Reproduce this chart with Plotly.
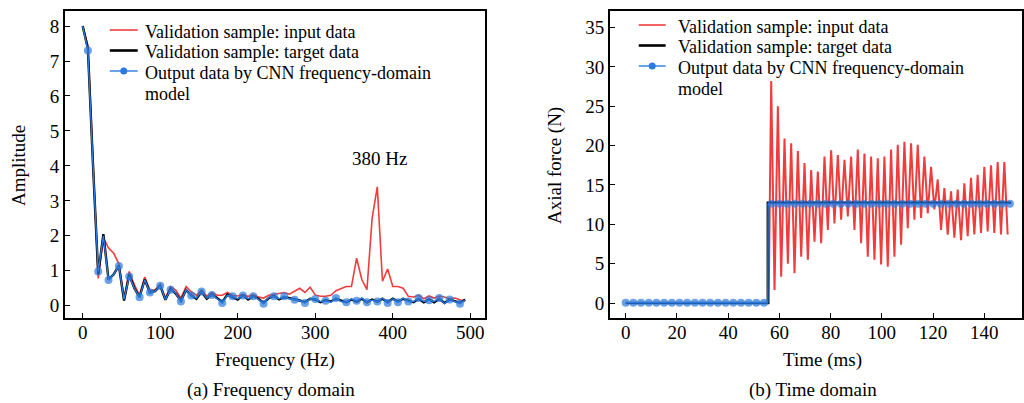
import plotly.graph_objects as go

W, H = 1024, 403
FONT = "Liberation Serif"
FS = 19
LEG_FS = 18

# ---------------- Frequency-domain data (resolution 6.67 Hz) ----------------
freq_step = 20.0 / 3.0
freq_black = [8.0, 7.35, 4.0, 0.9, 2.05, 0.75, 0.9, 1.15, 0.15, 0.88,
              0.5, 0.25, 0.75, 0.38, 0.42, 0.57, 0.17, 0.48, 0.35, 0.14,
              0.45, 0.3, 0.2, 0.4, 0.2, 0.32, 0.22, 0.1, 0.32, 0.26,
              0.18, 0.3, 0.18, 0.27, 0.2, 0.08, 0.22, 0.28, 0.18, 0.25,
              0.22, 0.17, 0.15, 0.1, 0.2, 0.18, 0.1, 0.16, 0.12, 0.2,
              0.15, 0.1, 0.18, 0.12, 0.2, 0.1, 0.18, 0.12, 0.2, 0.1,
              0.2, 0.12, 0.2, 0.14, 0.1, 0.2, 0.1, 0.18, 0.1, 0.2,
              0.08, 0.18, 0.14, 0.08, 0.18]
freq_red = [8.0, 7.45, 4.1, 0.78, 1.95, 1.65, 1.5, 1.2, 0.2, 0.98,
            0.6, 0.3, 0.82, 0.45, 0.45, 0.62, 0.22, 0.55, 0.45, 0.22,
            0.55, 0.4, 0.3, 0.45, 0.28, 0.38, 0.3, 0.3, 0.38, 0.3,
            0.28, 0.32, 0.27, 0.32, 0.25, 0.22, 0.3, 0.32, 0.36, 0.38,
            0.33, 0.42, 0.5, 0.38, 0.53, 0.31, 0.27, 0.27, 0.3, 0.43,
            0.5, 0.55, 0.55, 1.36, 0.75, 0.46, 2.5, 3.4, 0.7, 1.05,
            0.55, 0.55, 0.5, 0.27, 0.25, 0.3, 0.2, 0.28, 0.22, 0.27,
            0.25, 0.2, 0.22, 0.18, 0.12]
freq_blue = [8.0, 7.3, 4.0, 0.98, 2.0, 0.74, 0.9, 1.14, 0.18, 0.84,
             0.5, 0.24, 0.74, 0.38, 0.42, 0.57, 0.18, 0.46, 0.36, 0.12,
             0.46, 0.29, 0.22, 0.41, 0.22, 0.31, 0.2, 0.08, 0.3, 0.27,
             0.2, 0.29, 0.2, 0.27, 0.18, 0.06, 0.24, 0.27, 0.2, 0.27,
             0.2, 0.17, 0.15, 0.08, 0.2, 0.19, 0.12, 0.14, 0.1, 0.22,
             0.12, 0.1, 0.2, 0.14, 0.22, 0.1, 0.16, 0.12, 0.22, 0.08,
             0.2, 0.1, 0.22, 0.12, 0.12, 0.22, 0.12, 0.16, 0.12, 0.22,
             0.06, 0.18, 0.12, 0.06, 0.16]
freq = [i * freq_step for i in range(len(freq_black))]

# ---------------- Time-domain data ----------------
red_pre_t = [0.0, 55.8]
red_pre_v = [0.0, 0.0]
red_peaks = [28.2, 25.0, 20.9, 20.3, 19.3, 17.8, 16.9, 16.7, 18.6, 19.4,
             18.8, 18.2, 18.6, 19.5, 19.0, 18.6, 18.4, 18.6, 19.5, 20.1,
             20.5, 20.3, 20.1, 18.6, 17.3, 15.7, 14.6, 14.2, 14.4, 15.2,
             15.9, 16.3, 17.3, 17.5, 17.9, 17.9]
red_troughs = [1.65, 3.35, 5.0, 3.8, 5.9, 5.5, 7.8, 7.6, 9.3, 10.1,
               10.6, 11.0, 9.3, 7.6, 5.9, 5.5, 4.9, 4.6, 5.9, 7.4,
               9.5, 10.6, 10.8, 11.4, 11.9, 9.3, 8.7, 8.3, 8.0, 8.5,
               8.7, 8.9, 9.1, 8.9, 8.7, 8.7]
red_first_peak_t = 56.8
red_period = 2.6

black_t = [0.0, 55.5, 55.5, 150.5]
black_v = [0.0, 0.0, 12.75, 12.75]

blue_t = [0, 3, 6, 9, 12, 15, 18, 21, 24, 27, 30, 33, 36, 39, 42, 45, 48, 51, 54,
          55.5, 55.6,
          57, 60, 63, 66, 69, 72, 75, 78, 81, 84, 87, 90, 93, 96, 99, 102, 105,
          108, 111, 114, 117, 120, 123, 126, 129, 132, 135, 138, 141, 144, 147, 150]
blue_v = [0.05, 0.05, 0.05, 0.05, 0.05, 0.05, 0.05, 0.05, 0.05, 0.05, 0.05, 0.05,
          0.05, 0.05, 0.05, 0.05, 0.05, 0.05, 0.05,
          0.05, 12.6,
          12.6, 12.6, 12.6, 12.6, 12.6, 12.6, 12.6, 12.6, 12.6, 12.6, 12.6, 12.6,
          12.6, 12.6, 12.6, 12.6, 12.6, 12.6, 12.6, 12.6, 12.6, 12.6, 12.6, 12.6,
          12.6, 12.6, 12.6, 12.6, 12.6, 12.6, 12.6, 12.6]

freq_ticks = [0, 100, 200, 300, 400, 500]
amp_ticks = [0, 1, 2, 3, 4, 5, 6, 7, 8]
time_ticks = [0, 20, 40, 60, 80, 100, 120, 140]
force_ticks = [0, 5, 10, 15, 20, 25, 30, 35]

legend_labels = ["Validation sample: input data",
                 "Validation sample: target data",
                 "Output data by CNN frequency-domain",
                 "model"]

RED = "#f03c3c"
BLUE = "#2a7ae0"

red_t = list(red_pre_t)
red_v = list(red_pre_v)
for k in range(len(red_peaks)):
    red_t.append(red_first_peak_t + k * red_period)
    red_v.append(red_peaks[k])
    red_t.append(red_first_peak_t + k * red_period + red_period / 2)
    red_v.append(red_troughs[k])


def px(x):
    return x / W


def py(y):
    return 1 - y / H


fig = go.Figure()

# ---- left panel ----
fig.add_trace(go.Scatter(x=freq, y=freq_red, mode="lines", name=legend_labels[0],
                         line=dict(color=RED, width=1.6), xaxis="x", yaxis="y", showlegend=False))
fig.add_trace(go.Scatter(x=freq, y=freq_black, mode="lines", name=legend_labels[1],
                         line=dict(color="black", width=2.4), xaxis="x", yaxis="y", showlegend=False))
blue_sizes_f = [8 if i % 2 == 1 else 0 for i in range(len(freq_blue))]
fig.add_trace(go.Scatter(x=freq, y=freq_blue, mode="lines+markers", name=legend_labels[2],
                         line=dict(color=BLUE, width=1.4),
                         marker=dict(color=BLUE, size=blue_sizes_f, line=dict(width=0)),
                         xaxis="x", yaxis="y", showlegend=False))

# ---- right panel ----
fig.add_trace(go.Scatter(x=red_t, y=red_v, mode="lines", name=legend_labels[0],
                         line=dict(color=RED, width=2.0), xaxis="x2", yaxis="y2", showlegend=False))
fig.add_trace(go.Scatter(x=black_t, y=black_v, mode="lines", name=legend_labels[1],
                         line=dict(color="black", width=2.6), xaxis="x2", yaxis="y2", showlegend=False))
blue_sizes_t = [0 if t in (55.5, 55.6) else 8 for t in blue_t]
fig.add_trace(go.Scatter(x=blue_t, y=blue_v, mode="lines+markers", name=legend_labels[2],
                         line=dict(color=BLUE, width=1.4),
                         marker=dict(color=BLUE, size=blue_sizes_t, line=dict(width=0)),
                         xaxis="x2", yaxis="y2", showlegend=False))

axis_common = dict(showline=True, linecolor="black", linewidth=1.6, mirror=True,
                   ticks="inside", ticklen=5, tickwidth=1.3, tickcolor="black",
                   showgrid=False, zeroline=False,
                   tickfont=dict(family=FONT, size=FS, color="black"))

fig.update_layout(
    width=W, height=H,
    margin=dict(l=0, r=0, t=0, b=0),
    paper_bgcolor="white", plot_bgcolor="white",
    showlegend=False,
    xaxis=dict(domain=[px(65), px(486)], range=[-23, 519], tickvals=freq_ticks,
               anchor="y", ticklabelstandoff=-4, **axis_common),
    yaxis=dict(domain=[py(318), py(11)], range=[-0.35, 8.43], tickvals=amp_ticks,
               anchor="x", ticklabelstandoff=0, **axis_common),
    xaxis2=dict(domain=[px(611), 1.0], range=[-6.2, 154.7], tickvals=time_ticks,
                anchor="y2", ticklabelstandoff=-4, **axis_common),
    yaxis2=dict(domain=[py(318), py(11)], range=[-1.9, 37.1], tickvals=force_ticks,
                anchor="x2", ticklabelstandoff=0, **axis_common),
)

ann_font = dict(family=FONT, size=FS, color="black")
leg_font = dict(family=FONT, size=LEG_FS, color="black")


def txt(x, y, text, xanchor="center", angle=0, font=ann_font):
    return dict(x=px(x), y=py(y), xref="paper", yref="paper", text=text, showarrow=False,
                xanchor=xanchor, yanchor="middle", textangle=angle, font=font)


annotations = [
    dict(x=383, y=4.2, xref="x", yref="y", text="380 Hz", showarrow=False,
         xanchor="center", yanchor="middle", font=ann_font),
    txt(276, 360, "Frequency (Hz)"),
    txt(824, 360, "Time (ms)"),
    txt(272, 390, "(a) Frequency domain"),
    txt(815, 390, "(b) Time domain"),
    txt(18, 165, "Amplitude", angle=-90),
    txt(556, 165, "Axial force (N)", angle=-90),
]

shapes = []
# manual legends: (line x0, line x1, text x, first row y)
for (lx0, lx1, tx, y0) in [(110, 138, 143, 31), (640, 667, 677, 26)]:
    rows = [y0, y0 + 20.5, y0 + 41, y0 + 61.5]
    for i, lab in enumerate(legend_labels):
        annotations.append(txt(tx, rows[i] + 1, lab, xanchor="left", font=leg_font))
    shapes.append(dict(type="line", xref="paper", yref="paper",
                       x0=px(lx0), x1=px(lx1), y0=py(rows[0] - 1), y1=py(rows[0] - 1),
                       line=dict(color=RED, width=1.6)))
    shapes.append(dict(type="line", xref="paper", yref="paper",
                       x0=px(lx0), x1=px(lx1), y0=py(rows[1] - 1), y1=py(rows[1] - 1),
                       line=dict(color="black", width=2.6)))
    shapes.append(dict(type="line", xref="paper", yref="paper",
                       x0=px(lx0), x1=px(lx1), y0=py(rows[2] - 1), y1=py(rows[2] - 1),
                       line=dict(color=BLUE, width=1.4)))
    cx = (lx0 + lx1) / 2
    shapes.append(dict(type="circle", xref="paper", yref="paper",
                       x0=px(cx - 3.5), x1=px(cx + 3.5),
                       y0=py(rows[2] - 1 + 3.5), y1=py(rows[2] - 1 - 3.5),
                       fillcolor=BLUE, line=dict(color=BLUE, width=0)))

fig.update_layout(annotations=annotations, shapes=shapes)

fig.write_html("out.html")
